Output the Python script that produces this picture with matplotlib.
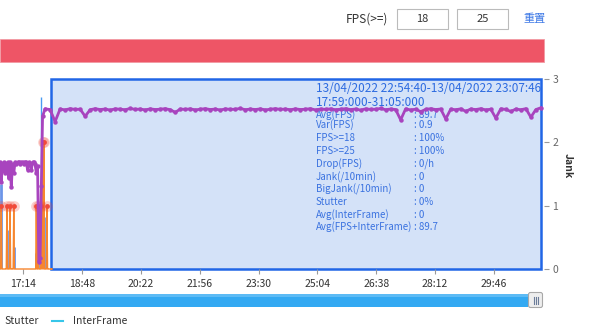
import numpy as np
import matplotlib
matplotlib.use('Agg')
import matplotlib.pyplot as plt
from matplotlib.patches import Rectangle, FancyBboxPatch

plt.rcParams['font.family'] = ['Noto Sans CJK SC', 'DejaVu Sans']

# time axis is mm:ss of the recording, stored as seconds
tick_labels = ['17:14', '18:48', '20:22', '21:56', '23:30', '25:04', '26:38', '28:12', '29:46']
x_min, x_max = 997, 1866

# FPS (purple), left part ~60 fps, then ~90 fps
fps_early_t = list(range(997, 1057, 2))
fps_early = [60, 49, 59, 60, 54, 59, 60, 51, 60, 46,
             59, 54, 60, 59, 60, 60, 59, 60, 60, 59,
             60, 60, 56, 60, 59, 56, 60, 60, 59, 54]
fps_jump_t = [1057, 1059, 1061, 1063, 1065]
fps_jump = [58, 4, 6, 47, 86]
fps_main_t0, fps_main_step = 1069, 8
fps_main = [90.2, 89.8, 83.0, 90.1, 89.6, 90.3, 89.9, 90.0, 86.0, 89.7,
            90.3, 89.8, 90.1, 89.5, 90.2, 90.0, 89.7, 90.4, 89.9, 90.1,
            89.6, 90.2, 89.8, 90.0, 90.3, 89.7, 88.2, 90.1, 89.9, 90.2,
            89.6, 90.0, 90.3, 89.8, 90.1, 89.5, 90.2, 89.9, 90.0, 90.4,
            89.7, 90.1, 89.8, 90.2, 89.6, 90.0, 90.3, 89.9, 90.1, 89.7,
            90.2, 89.8, 90.0, 90.3, 89.6, 90.1, 89.9, 90.2, 89.7, 90.0,
            90.3, 89.8, 90.1, 89.5, 90.2, 89.9, 90.0, 90.4, 89.7, 90.1,
            89.8, 84.0, 90.2, 89.6, 90.0, 88.6, 89.9, 90.3, 89.8, 90.1,
            84.5, 90.0, 89.7, 90.2, 88.8, 90.1, 89.8, 90.3, 89.6, 90.0,
            85.0, 90.2, 89.9, 88.7, 90.1, 89.7, 90.3, 85.5, 89.8, 90.8]

# Jank (orange), Stutter (blue bars), InterFrame
jank_t = [999, 1008, 1013, 1019, 1055, 1058, 1063, 1065, 1067, 1072]
jank_v = [1, 1, 1, 1, 1, 1, 1, 2, 2, 1]
stutter_t = [998, 1011, 1019, 1055, 1058, 1066, 1070]
stutter_v = [1.35, 0.62, 0.35, 0.25, 0.55, 0.62, 0.82]
interframe_t = [1062]
interframe_v = [2.72]

sel_start, sel_end = '17:59', '31:05'
header = ['13/04/2022 22:54:40-13/04/2022 23:07:46', '17:59:000-31:05:000']
stats_labels = ['Avg(FPS)', 'Var(FPS)', 'FPS>=18', 'FPS>=25', 'Drop(FPS)',
                'Jank(/10min)', 'BigJank(/10min)', 'Stutter', 'Avg(InterFrame)',
                'Avg(FPS+InterFrame)']
stats_values = ['89.7', '0.9', '100%', '100%', '0/h', '0', '0', '0%', '0', '89.7']
stats_y = [115, 125, 138, 151, 164, 177, 189, 202, 215, 227]


def to_sec(s):
    m, sec = s.split(':')
    return int(m) * 60 + int(sec)


W, H = 600, 327
fig = plt.figure(figsize=(W / 100, H / 100), dpi=100)

# pixel overlay for the page widgets
ui = fig.add_axes([0, 0, 1, 1])
ui.set_xlim(0, W)
ui.set_ylim(H, 0)
ui.axis('off')

ui.text(367, 19, 'FPS(>=)', ha='center', va='center', fontsize=8.5, color='#333333')
for bx, val in [(397, '18'), (457, '25')]:
    ui.add_patch(Rectangle((bx, 9), 51, 20, fc='white', ec='#BBBBBB', lw=0.8))
    ui.text(bx + 25.5, 19, val, ha='center', va='center', fontsize=8, color='#333333')
ui.text(535, 19, '重置', ha='center', va='center', fontsize=8, color='#3C78E6')

ui.add_patch(Rectangle((0, 39), 544, 23, fc='#EE5566', ec='#F29AA3', lw=0.6))

ui.add_patch(Rectangle((0, 294), 528, 13, fc='#33A9F2', ec='none'))
ui.add_patch(Rectangle((0, 294), 528, 3, fc='#5DBBF5', ec='none'))
ui.add_patch(FancyBboxPatch((528.5, 292.5), 14, 15, boxstyle='round,pad=0,rounding_size=2',
                            fc='#EEEEEE', ec='#A8A8A8', lw=0.8))
for hx in [533.5, 535.5, 537.5]:
    ui.plot([hx, hx], [297, 304], color='#6B7C99', lw=0.8)

ui.text(4, 321, 'Stutter', ha='left', va='center', fontsize=7.5, color='#333333')
ui.plot([52, 63], [321, 321], color='#37C6E9', lw=1.5)
ui.text(73, 321, 'InterFrame', ha='left', va='center', fontsize=7.5, color='#333333')
ui.text(568, 166, 'Jank', ha='center', va='center', rotation=270, fontsize=7.5,
        fontweight='bold', color='#333333')

# main chart
ax = fig.add_axes([0, (H - 269) / H, 544 / W, 190 / H])
ax.set_xlim(x_min, x_max)
ax.set_ylim(0, 3)
for s in ax.spines.values():
    s.set_visible(False)
ax.patch.set_visible(False)

s0, s1 = to_sec(sel_start), to_sec(sel_end)
ax.add_patch(Rectangle((s0, 0), s1 - s0 - 3, 3, fc='#D4E2F8', ec='#2166E6', lw=1.8,
                       zorder=1, clip_on=False))

sec = np.arange(x_min, 1081)
jank_line = np.zeros(len(sec))
for t, v in zip(jank_t, jank_v):
    jank_line[t - x_min] = v
jx = np.append(sec, s0)
jy = np.append(jank_line, 0)
ax.vlines(stutter_t, 0, stutter_v, color='#6C95E8', lw=2, zorder=2)
ax.vlines(interframe_t, 0, interframe_v, color='#4A9BF2', lw=1, zorder=2)
ax.plot(jx, jy, color='#F7862E', lw=1.0, zorder=3, clip_on=False)
ax.scatter(jank_t, jank_v, s=60, color='#F04A3A', alpha=0.25, lw=0, zorder=4)
ax.scatter(jank_t, jank_v, s=12, color='#F04A3A', lw=0, zorder=4)

for i, line in enumerate(header):
    ax.text(316, 88 + 14 * i, line, transform=ui.transData, ha='left', va='center',
            fontsize=8.5, color='#2D6BE0', zorder=5)
for lab, val, y in zip(stats_labels, stats_values, stats_y):
    ax.text(316, y, lab, transform=ui.transData, ha='left', va='center',
            fontsize=7.0, color='#3A72E0', zorder=5)
    ax.text(414, y, ': ' + val, transform=ui.transData, ha='left', va='center',
            fontsize=7.0, color='#3A72E0', zorder=5)

# FPS on its own hidden scale
ax2 = ax.twinx()
ax2.set_ylim(0, 107)
ax2.set_xlim(x_min, x_max)
ax2.axis('off')
fps_main_t = [fps_main_t0 + fps_main_step * k for k in range(len(fps_main))]
ft = fps_early_t + fps_jump_t + fps_main_t
fv = fps_early + fps_jump + fps_main
ax2.plot(ft, fv, color='#A844BE', lw=2.0, marker='o', ms=3.2, mew=0)

# axis ticks (set after twinx, which moves the y ticks back to the left)
ax.set_xticks([to_sec(t) for t in tick_labels])
ax.set_xticklabels(tick_labels)
ax.tick_params(axis='x', length=3.5, pad=3.5, color='#999999', labelsize=7.5, labelcolor='#333333')
ax.yaxis.tick_right()
ax.set_yticks([0, 1, 2, 3])
ax.tick_params(axis='y', left=False, labelleft=False, right=True, labelright=True,
               length=3.5, pad=2.5, color='#999999', labelsize=7.5, labelcolor='#666666')

fig.savefig('out.png', dpi=100, facecolor='white')
